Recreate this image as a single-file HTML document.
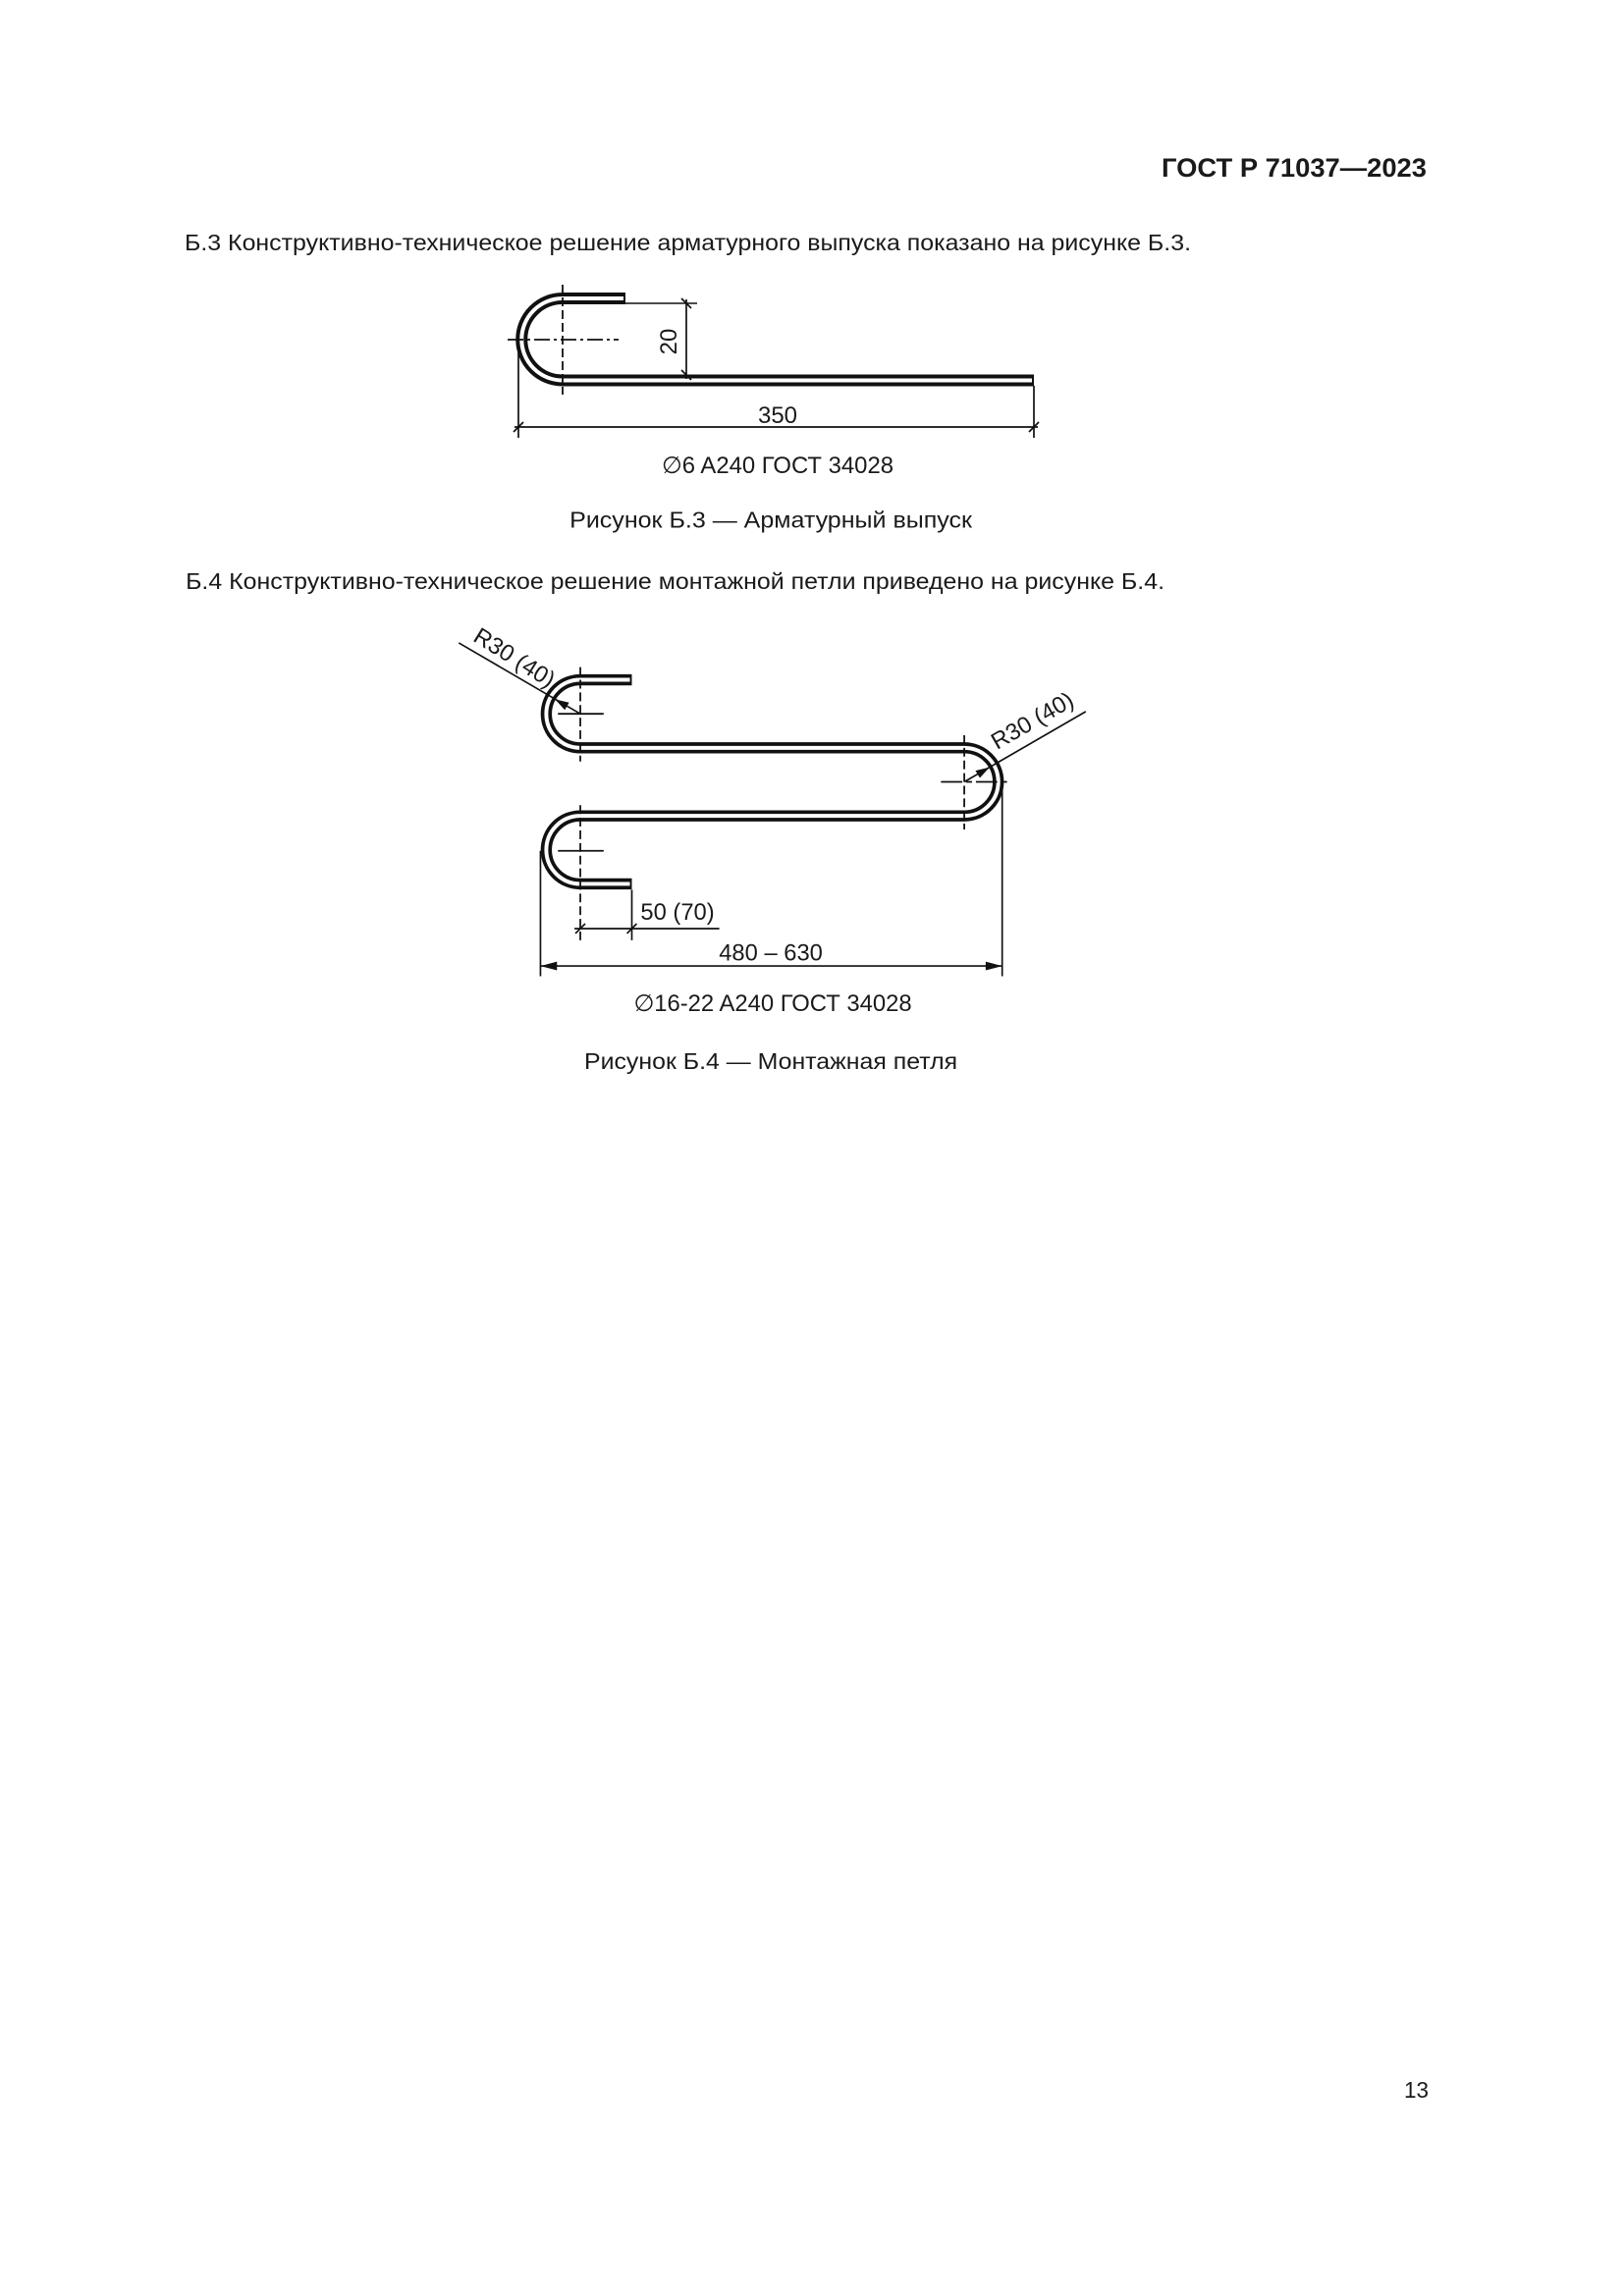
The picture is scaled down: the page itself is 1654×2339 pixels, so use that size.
<!DOCTYPE html>
<html><head><meta charset="utf-8"><style>
html,body{margin:0;padding:0;background:#fff}
svg{display:block}
text{font-family:"Liberation Sans",Arial,sans-serif;fill:#1a1a1a}
</style></head><body>
<svg width="1654" height="2339" viewBox="0 0 1654 2339" xmlns="http://www.w3.org/2000/svg">
<rect width="1654" height="2339" fill="#fff"/>
<text x="1453" y="180" font-size="27" font-weight="bold" text-anchor="end" textLength="270" lengthAdjust="spacingAndGlyphs">ГОСТ Р 71037—2023</text>
<text x="188" y="255" font-size="23.5" textLength="1025" lengthAdjust="spacingAndGlyphs">Б.3 Конструктивно-техническое решение арматурного выпуска показано на рисунке Б.3.</text>
<text x="1430" y="2137" font-size="23.5" textLength="25" lengthAdjust="spacingAndGlyphs">13</text>

<!-- Figure B.3 -->
<g fill="none" stroke="#111">
<path d="M637 304 H573 A41.7 41.7 0 0 0 573 387.5 H1053" stroke-width="12"/>
<path d="M635 304 H573 A41.7 41.7 0 0 0 573 387.5 H1051" stroke="#fff" stroke-width="4"/>
<line x1="573" y1="290" x2="573" y2="402" stroke-width="1.8" stroke-dasharray="9 4"/>
<line x1="517" y1="346" x2="630" y2="346" stroke-width="1.8" stroke-dasharray="16 4 3 4"/>
<line x1="637" y1="309" x2="710" y2="309" stroke-width="1.5"/>
<line x1="699" y1="305" x2="699" y2="386" stroke-width="1.7"/>
<line x1="694" y1="304" x2="704" y2="314" stroke-width="1.7"/>
<line x1="694" y1="377" x2="704" y2="387" stroke-width="1.7"/>
<line x1="528" y1="346" x2="528" y2="446" stroke-width="1.7"/>
<line x1="1053" y1="393" x2="1053" y2="446" stroke-width="1.7"/>
<line x1="524" y1="435" x2="1057" y2="435" stroke-width="1.7"/>
<line x1="523" y1="440" x2="533" y2="430" stroke-width="1.7"/>
<line x1="1048" y1="440" x2="1058" y2="430" stroke-width="1.7"/>
</g>
<text x="0" y="0" font-size="24" text-anchor="middle" transform="translate(689 348) rotate(-90)">20</text>
<text x="792" y="431" font-size="24" text-anchor="middle">350</text>
<text x="792" y="482" font-size="24" text-anchor="middle" textLength="236" lengthAdjust="spacingAndGlyphs">∅6 A240 ГОСТ 34028</text>

<g transform="scale(0.99)">
<text x="586" y="543" font-size="23.5" textLength="414" lengthAdjust="spacingAndGlyphs">Рисунок Б.3 — Арматурный выпуск</text>
<text x="191" y="606" font-size="23.5" textLength="1007" lengthAdjust="spacingAndGlyphs">Б.4 Конструктивно-техническое решение монтажной петли приведено на рисунке Б.4.</text>
<text x="601" y="1100" font-size="23.5" textLength="384" lengthAdjust="spacingAndGlyphs">Рисунок Б.4 — Монтажная петля</text>
</g>

<!-- Figure B.4 -->
<g transform="translate(0 3.5) scale(0.99)">
<g fill="none" stroke="#111">
<path d="M650 696 H597 A35 35 0 0 0 597 766 H992 A35 35 0 0 1 992 836 H597 A35 35 0 0 0 597 906 H650" stroke-width="11.5"/>
<path d="M648 696 H597 A35 35 0 0 0 597 766 H992 A35 35 0 0 1 992 836 H597 A35 35 0 0 0 597 906 H648" stroke="#fff" stroke-width="4"/>
<line x1="597" y1="683" x2="597" y2="780" stroke-width="1.8" stroke-dasharray="9 4"/>
<line x1="574" y1="731" x2="621" y2="731" stroke-width="1.8"/>
<line x1="992" y1="753" x2="992" y2="850" stroke-width="1.8" stroke-dasharray="9 4"/>
<line x1="968" y1="801" x2="1040" y2="801" stroke-width="1.8" stroke-dasharray="22 4 6 4"/>
<line x1="597" y1="825" x2="597" y2="964" stroke-width="1.8" stroke-dasharray="9 4"/>
<line x1="574" y1="872" x2="621" y2="872" stroke-width="1.8"/>
<line x1="650" y1="912" x2="650" y2="964" stroke-width="1.7"/>
<line x1="556" y1="872" x2="556" y2="1001" stroke-width="1.7"/>
<line x1="1031" y1="801" x2="1031" y2="1001" stroke-width="1.7"/>
<line x1="591" y1="952" x2="740" y2="952" stroke-width="1.7"/>
<line x1="592" y1="957" x2="602" y2="947" stroke-width="1.7"/>
<line x1="645" y1="957" x2="655" y2="947" stroke-width="1.7"/>
<line x1="556" y1="990.5" x2="1031" y2="990.5" stroke-width="1.7"/>
<line x1="472" y1="658" x2="597" y2="731" stroke-width="1.7"/>
<line x1="992" y1="801" x2="1117" y2="728.7" stroke-width="1.7"/>
</g>
<g fill="#111">
<polygon points="556,990.5 573,986 573,995"/>
<polygon points="1031,990.5 1014,986 1014,995"/>
<polygon points="571,716 585.5,719.5 581,727"/>
<polygon points="1018,786 1008,797 1003.5,789.5"/>
</g>
<text x="0" y="0" font-size="24" text-anchor="middle" transform="translate(525 680) rotate(32)">R30 (40)</text>
<text x="0" y="0" font-size="24" text-anchor="middle" transform="translate(1066 745) rotate(-30)">R30 (40)</text>
<text x="659" y="943" font-size="24">50 (70)</text>
<text x="793" y="985" font-size="24" text-anchor="middle">480 – 630</text>
<text x="795" y="1037" font-size="24" text-anchor="middle" textLength="286" lengthAdjust="spacingAndGlyphs">∅16-22 A240 ГОСТ 34028</text>
</g>
</svg>
</body></html>
